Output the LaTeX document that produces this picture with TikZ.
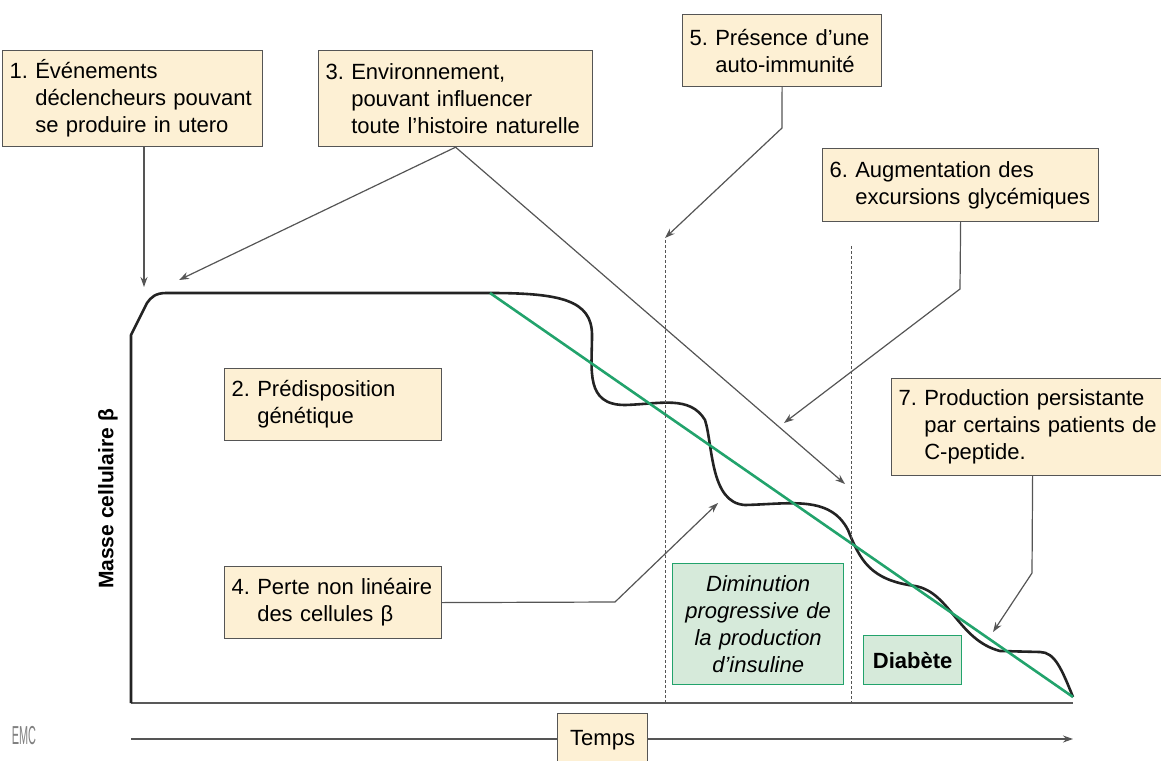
\documentclass[tikz,border=0pt]{standalone}
\usepackage{fontspec}
\setmainfont{Liberation Sans}
\usetikzlibrary{arrows.meta, positioning, calc}
\definecolor{beige}{RGB}{253,240,212}
\definecolor{leaf}{RGB}{34,163,108}
\definecolor{mint}{RGB}{214,234,218}
\definecolor{ink}{RGB}{35,35,35}
\definecolor{wire}{RGB}{85,85,85}
\newcommand{\indt}{\hphantom{0.\ }}
\frenchspacing

\begin{document}
\begin{tikzpicture}[x=1pt, y=-1pt,
    note/.style={draw=wire, line width=1.2pt, fill=beige, anchor=north west, align=left,
      inner xsep=7pt, inner ysep=0pt, font=\fontsize{22}{27}\selectfont},
    greenbox/.style={draw=leaf, line width=1.3pt, fill=mint, anchor=north west, align=center,
      inner xsep=6pt, inner ysep=0pt, font=\fontsize{22}{27}\selectfont},
    link/.style={wire, line width=1.2pt, -{Stealth[length=10pt,width=7pt]}}]
  \useasboundingbox (0,0) rectangle (1161,760);
  % axes
  \coordinate (orig) at (131,703); \coordinate (xend) at (1073,703);
  \draw[gray!70!black, line width=2pt] (orig) -- (xend);
  \coordinate (t0) at (131,739); \coordinate (tend) at (1073,739);
  \draw[link, line width=1.4pt] (t0) -- (tend);
  \node[rotate=90, font=\fontsize{21}{21}\selectfont\bfseries] (ylab) at (108,499) {Masse cellulaire β};
  \node[gray, font=\fontsize{26}{26}\selectfont, xscale=0.42] (emc) at (24,736) {EMC};
  % beta cell mass curve
  \draw[ink, line width=2.6pt, line join=round] (orig) -- (131,335) -- (147,303)
    .. controls (151,297) and (156,293) .. (166,293) -- (490,293)
    .. controls (560,293) and (592,300) .. (592,335)
    .. controls (592,370) and (585,405) .. (625,405)
    .. controls (660,404) and (690,395) .. (705,420)
    .. controls (713,445) and (710,503) .. (745,505)
    .. controls (790,504) and (830,495) .. (848,530)
    .. controls (860,560) and (870,580) .. (915,586)
    .. controls (950,592) and (958,640) .. (1000,651)
    -- (1040,652) .. controls (1055,652) and (1062,670) .. (1073,697);
  \draw[leaf, line width=2.6pt] (490,293) -- (1073,697);
  % phases
  \draw[wire, line width=0.9pt, dash pattern=on 3pt off 2pt] (665,240) -- (665,703);
  \draw[wire, line width=0.9pt, dash pattern=on 3pt off 2pt] (851,246) -- (851,703);
  \node[greenbox, text width=159pt, minimum height=121pt, font=\fontsize{22}{27}\selectfont\itshape] (prog) at (672,563)
    {Diminution\\progressive de\\la production\\d’insuline};
  \node[greenbox, text width=86pt, minimum height=49pt, font=\fontsize{22}{27}\selectfont\bfseries] (diab) at (863,635) {Diabète};
  % arrow targets
  \coordinate (t1) at (144,287);
  \coordinate (t3a) at (179,280);
  \coordinate (t3b) at (845,484);
  \coordinate (k4) at (615,602); \coordinate (t4) at (718,503);
  \coordinate (k5) at (782,128); \coordinate (t5) at (665,238);
  \coordinate (k6) at (960,289); \coordinate (t6) at (784,423);
  \coordinate (k7) at (1032,573); \coordinate (t7) at (993,632);
  % boxes
  \node[note, text width=246pt, minimum height=96pt] (b1) at (2,50)
    {1. Événements\\\indt déclencheurs pouvant\\\indt se produire in utero};
  \node[note, text width=260pt, minimum height=96pt] (b3) at (318,50)
    {3. Environnement,\\\indt pouvant influencer\\\indt toute l’histoire naturelle};
  \node[note, text width=185pt, minimum height=72pt] (b5) at (682,14)
    {5. Présence d’une\\\indt auto-immunité};
  \node[note, text width=262pt, minimum height=73pt] (b6) at (822,148)
    {6. Augmentation des\\\indt excursions glycémiques};
  \node[note, text width=268pt, minimum height=97pt] (b7) at (891,378)
    {7. Production persistante\\\indt par certains patients de\\\indt C-peptide.};
  \node[note, text width=203pt, minimum height=72pt] (b2) at (224,368)
    {2. Prédisposition\\\indt génétique};
  \node[note, text width=203pt, minimum height=72pt] (b4) at (224,566)
    {4. Perte non linéaire\\\indt des cellules β};
  \node[note, align=center, text width=76pt, minimum height=54pt] (temps) at (557,713) {Temps};
  % connectors
  \draw[link] (t1 |- b1.south) -- (t1);
  \draw[link] (b3.south) -- (t3a);
  \draw[link] (b3.south) -- (t3b);
  \draw[link] (b4.east) -- (k4) -- (t4);
  \draw[link] (b5.south) -- (k5) -- (t5);
  \draw[link] (b6.south) -- (k6) -- (t6);
  \draw[link] (b7.south) -- (k7) -- (t7);
\end{tikzpicture}
\end{document}
